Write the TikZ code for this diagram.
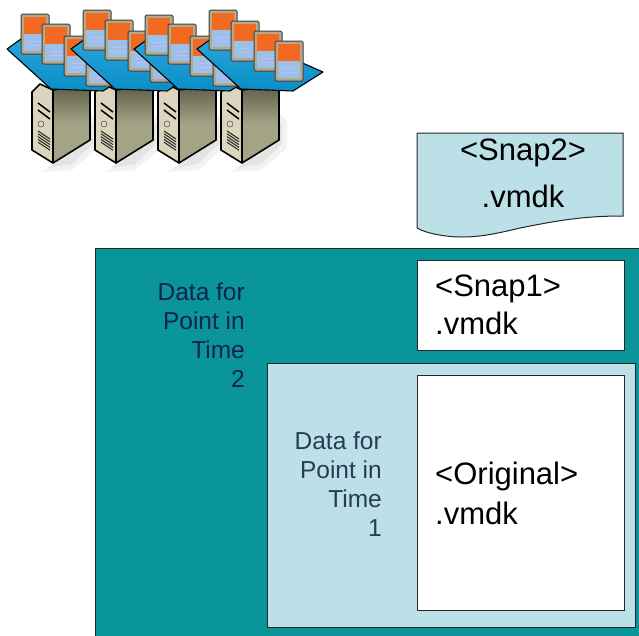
\documentclass[tikz,border=0pt]{standalone}
\usepackage{fontspec}
\setmainfont{Liberation Sans}
\definecolor{teal1}{HTML}{0A9698}
\definecolor{pale}{HTML}{BCE0E7}
\definecolor{inkb}{HTML}{10205A}
\definecolor{inkg}{HTML}{2A3A55}
\definecolor{beige}{HTML}{DAD5BC}
\definecolor{olive}{HTML}{A3A386}
\definecolor{olived}{HTML}{5E5E48}
\definecolor{blueplate}{HTML}{0A9AD8}
\definecolor{orangec}{HTML}{F26A21}
\definecolor{bluec}{HTML}{9CC0E8}
\definecolor{framec}{HTML}{B5A98A}
\tikzset{
 x=1pt,y=-1pt,
 boxline/.style={draw=black!85,line width=1pt},
 bigtxt/.style={font=\fontsize{31}{38}\selectfont,align=left,anchor=north west,inner sep=0,text=black},
 smalltxt/.style={font=\fontsize{24.5}{29}\selectfont,align=right,anchor=north east,inner sep=0},
 plate/.style={draw=black,line width=1.1pt,top color=blueplate!85!white,bottom color=blueplate!92!black,line join=round},
 caseline/.style={draw=black,line width=1.6pt,line join=round},
 card/.style={draw=black!75,line width=1pt,fill=framec,rounded corners=1.5pt},
}
\newcommand{\vcard}[2]{%
 \begin{scope}[shift={(#1,#2)}]
  \draw[card] (0,0) rectangle (28,40);
  \fill[orangec] (3,3) rectangle (25,20);
  \fill[bluec] (3,20) rectangle (25,37);
  \draw[white!75!blue,line width=.6pt] (8,27) -- (20,27) (8,31) -- (20,31);
 \end{scope}}
\newcommand{\server}[1]{%
 \begin{scope}[shift={(#1,0)}]
  \fill[gray,opacity=.10] (42,172) -- (72,170) -- (98,148) -- (98,120) -- (88,112) -- (60,160) -- cycle;
  \fill[gray,opacity=.12] (48,168) -- (72,164) -- (93,144) -- (93,124) -- (88,120) -- (60,160) -- cycle;
  \draw[caseline,top color=olived,bottom color=olive,middle color=olive] (53,163) -- (90,140) -- (90,85) -- (53,90) -- cycle;
  \draw[caseline,fill=beige] (32,92) -- (32,150) -- (53,163) -- (53,90) -- (40,84) -- cycle;
  \draw[black,line width=1.5pt] (38,103) -- (50,112) (38,110) -- (50,119);
  \draw[black!70,line width=.5pt] (41,124) circle (3);
  \foreach \k in {0,...,4} \draw[black!85,line width=1pt] (38,131+2.8*\k) -- (50,139+2.8*\k);
 \end{scope}}
\newcommand{\vplate}[1]{%
 \draw[plate,shift={(#1,0)}] (0,49) -- (28,29) -- (126,72) -- (96,91) -- (44,89) -- cycle;}
\begin{document}
\begin{tikzpicture}
\useasboundingbox (0,0) rectangle (639,635);
\fill[white] (0,0) rectangle (639,635);
% servers
\server{0}\server{63}\server{126}\server{189}
% hosts: four plates, painted from the back
\vplate{7}
\vcard{21}{14}\vcard{42}{24}\vcard{64}{36}\vcard{86}{46}
\vplate{71}
\vcard{83}{10}\vcard{105}{20}\vcard{128}{31}\vcard{150}{42}
\vplate{134}
\vcard{145}{15}\vcard{168}{24}\vcard{190}{36}\vcard{213}{46}
\vplate{197}
\vcard{209}{10}\vcard{231}{21}\vcard{254}{31}\vcard{275}{41}
% snap2 document
\draw[boxline,fill=pale] (417,133) -- (623,133) -- (623,216)
  .. controls (585,216) and (560,220) .. (520,228)
  .. controls (495,234) and (480,237) .. (462,237)
  .. controls (445,237) and (425,233) .. (417,228) -- cycle;
\node[inner sep=0,font=\fontsize{31}{38}\selectfont,align=center,anchor=north] (snap2) at (523,139) {<Snap2>\\[9pt].vmdk};
% outer
\path[boxline,fill=teal1] (95,248) rectangle (645,640);
\node[smalltxt,text=inkb] (t2) at (245,283) {Data for\\Point in\\Time\\2};
\node[draw=black!85,line width=1pt,fill=white,minimum width=207pt,minimum height=90pt,anchor=north west,inner sep=0] (snap1) at (417,260) {};
\node[bigtxt] (snap1t) at (435,275) {<Snap1>\\.vmdk};
% inner
\path[boxline,fill=pale] (267,363.5) rectangle (635,627);
\node[smalltxt,text=inkg] (t1) at (382,432) {Data for\\Point in\\Time\\1};
\node[draw=black!85,line width=1pt,fill=white,minimum width=207pt,minimum height=235pt,anchor=north west,inner sep=0] (orig) at (417,375) {};
\node[bigtxt,font=\fontsize{31}{40}\selectfont] (origt) at (435,462) {<Original>\\.vmdk};
\end{tikzpicture}
\end{document}
